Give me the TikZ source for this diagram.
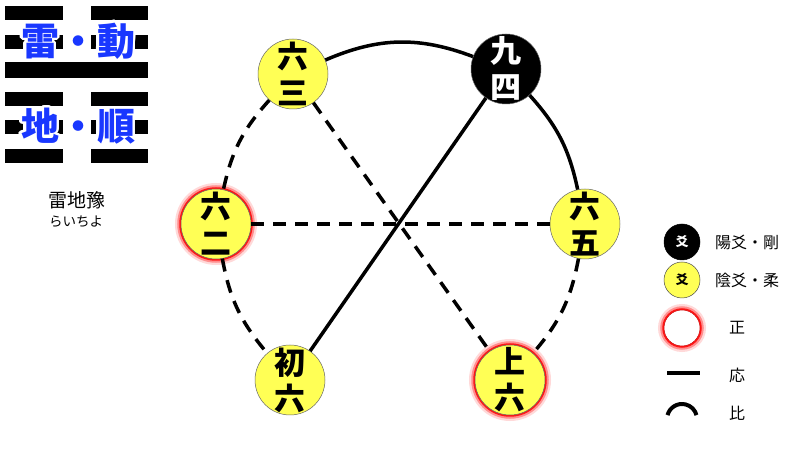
\documentclass[tikz,border=0pt]{standalone}
\usepackage{fontspec}
\usepackage{contour}
\newfontfamily\jp{Noto Sans CJK JP}
\definecolor{yinyel}{RGB}{255,255,85}
\definecolor{hexblue}{RGB}{25,55,255}
\contourlength{2.2pt}
\contournumber{32}
\begin{document}
\begin{tikzpicture}[x=1pt,y=1pt,
  yaotext/.style={font=\jp\bfseries\fontsize{31}{36}\selectfont,align=center,inner sep=0pt},
  yin/.style={circle,draw=black!60,line width=0.5pt,fill=yinyel,minimum size=70pt,inner sep=0pt,
    label={[yaotext]center:#1}},
  yang/.style={circle,draw=black!60,line width=0.5pt,fill=black,minimum size=70pt,inner sep=0pt,
    label={[yaotext,text=white]center:#1}},
  glow/.style={preaction={draw=red,opacity=0.15,line width=12pt},
               preaction={draw=red,opacity=0.35,line width=7.5pt},
               preaction={draw=red,opacity=0.85,line width=3.5pt}},
  ying/.style={line width=3.5pt,line cap=butt},
  yinline/.style={line width=3.5pt,dash pattern=on 13pt off 9pt},
  hexa/.style={font=\jp\bfseries\fontsize{38}{40}\selectfont,text=hexblue,inner sep=0pt},
  legtext/.style={font=\jp\fontsize{16}{18}\selectfont,inner sep=0pt},
  smallc/.style={circle,minimum size=36pt,inner sep=0pt,line width=0.5pt}
]
\useasboundingbox (0,0) rectangle (800,449);
\fill[white] (0,0) rectangle (800,449);

% hexagram bars
\foreach \i in {0,1,3,4,5} {
  \fill (5,{443-28.6*\i}) rectangle (63,{429-28.6*\i});
  \fill (91,{443-28.6*\i}) rectangle (148,{429-28.6*\i});
}
\fill (5,{444-57.2}) rectangle (148,{428-57.2});
\node[hexa] (t1) at (78,407) {\contour{white}{雷・動}};
\node[hexa] (t2) at (78,322) {\contour{white}{地・順}};
\node[font=\jp\fontsize{19}{20}\selectfont,inner sep=0pt] (name) at (77,249) {雷地豫};
\node[font=\jp\fontsize{13.5}{15}\selectfont,inner sep=0pt] (yomi) at (76,227) {らいちよ};

% yao nodes
\node[yin={六\\三}] (n3) at (293,375) {};
\node[yang={九\\四}] (n4) at (506,380) {};
\node[yin={六\\二},glow] (n2) at (216,225) {};
\node[yin={六\\五}] (n5) at (585,225) {};
\node[yin={初\\六}] (n1) at (290,69) {};
\node[yin={上\\六},glow] (n6) at (510,69) {};

% connectors
\draw[ying] (n3) to[bend left=22] (n4);
\draw[ying] (n4) to[bend left=15] (n5);
\draw[ying] (n4) -- (n1);
\draw[yinline] (n3) to[bend right=15] (n2);
\draw[yinline] (n3) -- (n6);
\draw[yinline] (n2) -- (n5);
\draw[yinline] (n2) to[bend right=15] (n1);
\draw[yinline] (n5) to[bend left=15] (n6);

% legend
\node[smallc,fill=black,draw=black,text=white,font=\jp\bfseries\fontsize{13}{14}\selectfont] (l1) at (682,207) {爻};
\node[legtext,anchor=west] (l1t) at (715,207) {陽爻・剛};
\node[smallc,fill=yinyel,draw=black!70,font=\jp\bfseries\fontsize{13}{14}\selectfont] (l2) at (682,169) {爻};
\node[legtext,anchor=west] (l2t) at (715,169) {陰爻・柔};
\node[smallc,fill=white,draw=red!80!black,glow] (l3) at (682,121) {};
\node[legtext] (l3t) at (737,121) {正};
\coordinate (la) at (667,76);
\coordinate (lb) at (700,76);
\draw[line width=4pt] (la) -- (lb);
\node[legtext] (l4t) at (737,74) {応};
\coordinate (lc) at (682,30);
\draw[line width=4pt] (lc) ++(165:15) arc[start angle=165,end angle=15,radius=15];
\node[legtext] (l5t) at (737,36) {比};
\end{tikzpicture}
\end{document}
